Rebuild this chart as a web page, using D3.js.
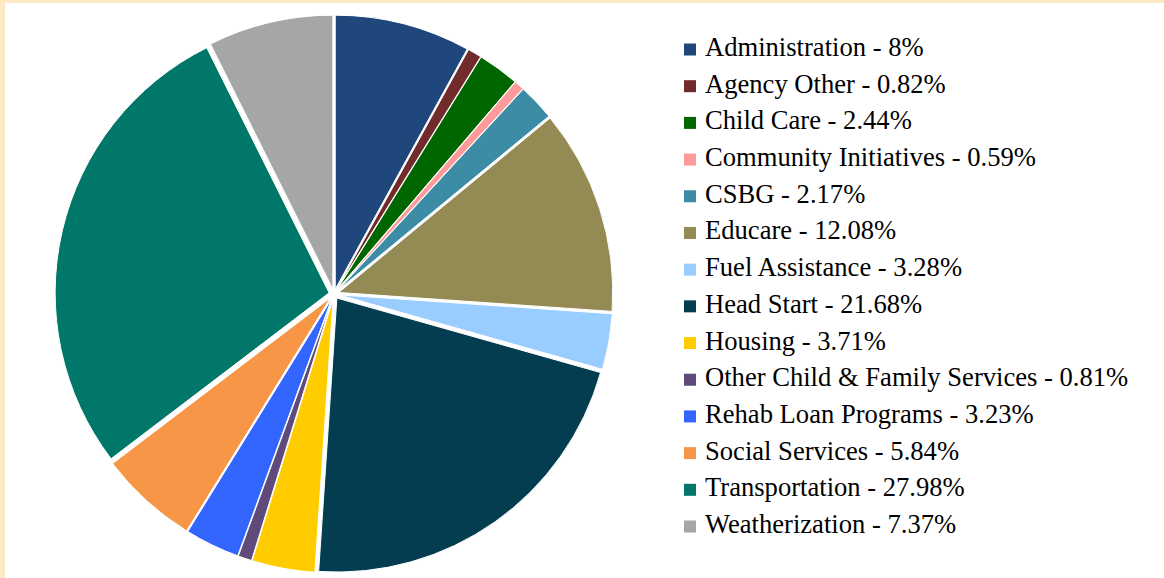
<!DOCTYPE html>
<html>
<head>
<meta charset="utf-8">
<script src="https://cdn.jsdelivr.net/npm/d3@7"></script>
<style>
  body { margin: 0; background: #fde9c3; }
  svg { display: block; }
  .legend text { font-family: "Liberation Serif", "Times New Roman", Times, "DejaVu Serif", serif; font-size: 26.6px; }
</style>
</head>
<body>
<script>
var categories = ["Administration", "Agency Other", "Child Care", "Community Initiatives", "CSBG",
    "Educare", "Fuel Assistance", "Head Start", "Housing", "Other Child & Family Services",
    "Rehab Loan Programs", "Social Services", "Transportation", "Weatherization"];
var percents = [8, 0.82, 2.44, 0.59, 2.17, 12.08, 3.28, 21.68, 3.71, 0.81, 3.23, 5.84, 27.98, 7.37];
var colors = ["#1f477b", "#722b2b", "#006600", "#ff9a9a", "#3b8ca4", "#948a54", "#99ccff",
    "#033d4f", "#ffcc00", "#604a7b", "#3366ff", "#f79646", "#007769", "#a6a6a6"];

var width = 1164;
var height = 578;
var cx = 334, cy = 294, radius = 274;
var explode = 5;

var svg = d3.select("body").append("svg")
    .attr("width", width)
    .attr("height", height);

// white plot area inside the cream border
svg.append("rect")
    .attr("x", 5)
    .attr("y", 3)
    .attr("width", width - 5)
    .attr("height", height - 3)
    .attr("fill", "#fff");

var color = d3.scaleOrdinal().domain(categories).range(colors);

var pie = d3.pie()
    .sort(null)
    .value(function(d, i) { return percents[i]; });

var arc = d3.arc()
    .innerRadius(0)
    .outerRadius(radius);

var slices = svg.append("g")
    .attr("transform", "translate(" + cx + "," + cy + ")")
    .selectAll("path")
    .data(pie(categories))
    .enter().append("path")
    .attr("transform", function(d) {
        var mid = (d.startAngle + d.endAngle) / 2;
        return "translate(" + (explode * Math.sin(mid)) + "," + (-explode * Math.cos(mid)) + ")";
    })
    .attr("d", arc)
    .attr("fill", function(d) { return color(d.data); })
    .attr("stroke", "#fff")
    .attr("stroke-width", 1);

// legend
var rowY = d3.scalePoint()
    .domain(categories)
    .range([56, 533]);

var legend = svg.append("g")
    .attr("class", "legend");

var rows = legend.selectAll("g")
    .data(categories)
    .enter().append("g")
    .attr("transform", function(d) { return "translate(0," + rowY(d) + ")"; });

rows.append("rect")
    .attr("x", 684)
    .attr("y", -12.5)
    .attr("width", 12)
    .attr("height", 12)
    .attr("fill", function(d) { return color(d); });

rows.append("text")
    .attr("x", 705)
    .attr("y", 0)
    .attr("fill", "#000")
    .text(function(d, i) { return d + " - " + percents[i] + "%"; });
</script>
</body>
</html>
